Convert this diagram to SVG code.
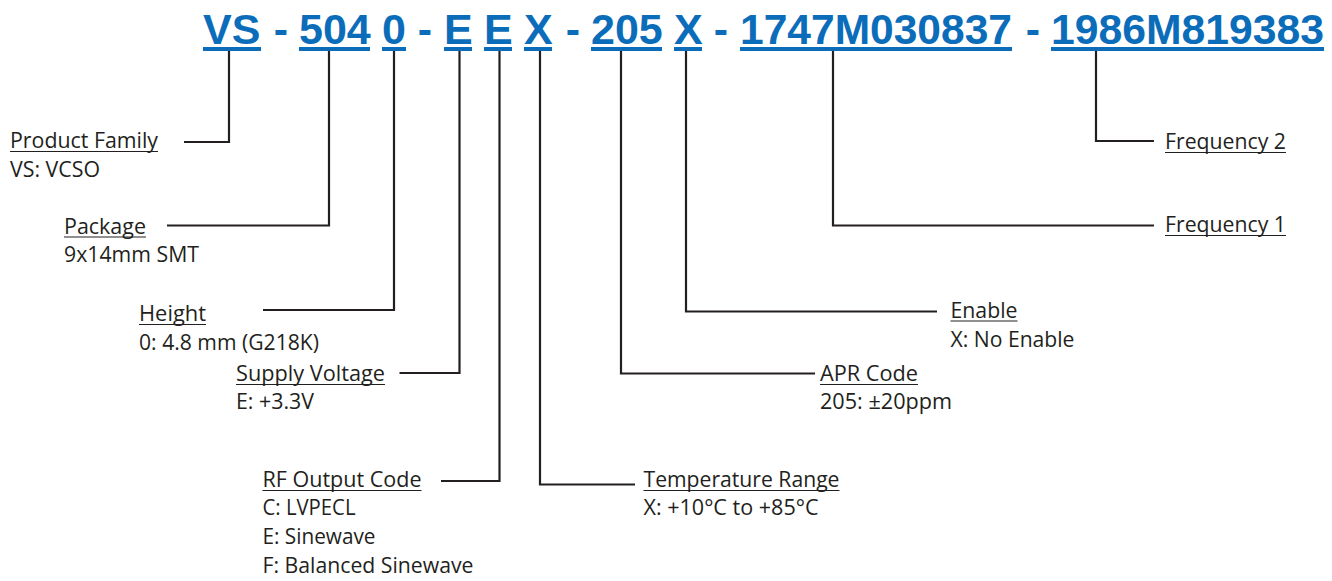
<svg xmlns="http://www.w3.org/2000/svg" width="1332" height="581" viewBox="0 0 1332 581">
<style>
.code{font-family:"Liberation Sans",Arial,sans-serif;font-weight:bold;font-size:43px;fill:#0b6dba}
.ul{fill:#0b6dba}
.lbl{font-family:"Open Sans","Noto Sans",sans-serif;font-size:22px;fill:#231f20}
.lu{stroke:#231f20;stroke-width:1.2;fill:none}
.con{stroke:#231f20;stroke-width:2.2;fill:none;stroke-linejoin:miter}
</style>
<rect width="1332" height="581" fill="#ffffff"/>
<g id="code">
<g id="seg-vs"><text class="code" x="203" y="44">VS</text><rect class="ul" x="203" y="47" width="58" height="4"/></g>
<text class="code" x="281" y="44" text-anchor="middle">-</text>
<g id="seg-504"><text class="code" x="299" y="44">504</text><rect class="ul" x="299" y="47" width="71" height="4"/></g>
<g id="seg-0"><text class="code" x="382" y="44">0</text><rect class="ul" x="382" y="47" width="24" height="4"/></g>
<text class="code" x="425" y="44" text-anchor="middle">-</text>
<g id="seg-e1"><text class="code" x="444" y="44">E</text><rect class="ul" x="444" y="47" width="28" height="4"/></g>
<g id="seg-e2"><text class="code" x="484" y="44">E</text><rect class="ul" x="484" y="47" width="28" height="4"/></g>
<g id="seg-x1"><text class="code" x="524" y="44">X</text><rect class="ul" x="524" y="47" width="28" height="4"/></g>
<text class="code" x="573" y="44" text-anchor="middle">-</text>
<g id="seg-205"><text class="code" x="591" y="44">205</text><rect class="ul" x="591" y="47" width="71" height="4"/></g>
<g id="seg-x2"><text class="code" x="674" y="44">X</text><rect class="ul" x="674" y="47" width="28" height="4"/></g>
<text class="code" x="721" y="44" text-anchor="middle">-</text>
<g id="seg-f1"><text class="code" x="740" y="44" textLength="272" lengthAdjust="spacingAndGlyphs">1747M030837</text><rect class="ul" x="740" y="47" width="272" height="4"/></g>
<text class="code" x="1033" y="44" text-anchor="middle">-</text>
<g id="seg-f2"><text class="code" x="1051" y="44" textLength="273" lengthAdjust="spacingAndGlyphs">1986M819383</text><rect class="ul" x="1051" y="47" width="273" height="4"/></g>
</g>
<g id="connectors">
<polyline class="con" points="229,51 229,142 184,142"/>
<polyline class="con" points="329,51 329,225.5 167,225.5"/>
<polyline class="con" points="394,51 394,310 263,310"/>
<polyline class="con" points="459.5,51 459.5,373 399.5,373"/>
<polyline class="con" points="499.5,51 499.5,481 441,481"/>
<polyline class="con" points="540,51 540,484.5 635,484.5"/>
<polyline class="con" points="621,51 621,373.5 815,373.5"/>
<polyline class="con" points="686,51 686,311.5 937,311.5"/>
<polyline class="con" points="833,51 833,225.5 1154,225.5"/>
<polyline class="con" points="1096,51 1096,141 1154,141"/>
</g>
<g id="product-family">
<text class="lbl" x="10" y="148" textLength="148" lengthAdjust="spacingAndGlyphs">Product Family</text>
<line class="lu" x1="10" y1="151.5" x2="158" y2="151.5"/>
<text class="lbl" x="10" y="176.5" textLength="90" lengthAdjust="spacingAndGlyphs">VS: VCSO</text>
</g>
<g id="package">
<text class="lbl" x="64" y="233.5" textLength="82" lengthAdjust="spacingAndGlyphs">Package</text>
<line class="lu" x1="64" y1="237" x2="146" y2="237"/>
<text class="lbl" x="64" y="262" textLength="135" lengthAdjust="spacingAndGlyphs">9x14mm SMT</text>
</g>
<g id="height">
<text class="lbl" x="139" y="321" textLength="67" lengthAdjust="spacingAndGlyphs">Height</text>
<line class="lu" x1="139" y1="324.5" x2="206" y2="324.5"/>
<text class="lbl" x="139" y="349.5" textLength="180" lengthAdjust="spacingAndGlyphs">0: 4.8 mm (G218K)</text>
</g>
<g id="supply-voltage">
<text class="lbl" x="236" y="381" textLength="149" lengthAdjust="spacingAndGlyphs">Supply Voltage</text>
<line class="lu" x1="236" y1="384.5" x2="385" y2="384.5"/>
<text class="lbl" x="236" y="409" textLength="78" lengthAdjust="spacingAndGlyphs">E: +3.3V</text>
</g>
<g id="rf-output-code">
<text class="lbl" x="262.5" y="487" textLength="159" lengthAdjust="spacingAndGlyphs">RF Output Code</text>
<line class="lu" x1="262.5" y1="490.5" x2="421.5" y2="490.5"/>
<text class="lbl" x="262.5" y="515" textLength="93" lengthAdjust="spacingAndGlyphs">C: LVPECL</text>
<text class="lbl" x="262.5" y="544" textLength="113" lengthAdjust="spacingAndGlyphs">E: Sinewave</text>
<text class="lbl" x="262.5" y="572.5" textLength="211" lengthAdjust="spacingAndGlyphs">F: Balanced Sinewave</text>
</g>
<g id="temperature-range">
<text class="lbl" x="643.5" y="487" textLength="196" lengthAdjust="spacingAndGlyphs">Temperature Range</text>
<line class="lu" x1="643.5" y1="490.5" x2="839.5" y2="490.5"/>
<text class="lbl" x="643.5" y="515" textLength="175" lengthAdjust="spacingAndGlyphs">X: +10°C to +85°C</text>
</g>
<g id="apr-code">
<text class="lbl" x="820" y="381" textLength="98" lengthAdjust="spacingAndGlyphs">APR Code</text>
<line class="lu" x1="820" y1="384.5" x2="918" y2="384.5"/>
<text class="lbl" x="820" y="409.3" textLength="132" lengthAdjust="spacingAndGlyphs">205: ±20ppm</text>
</g>
<g id="enable">
<text class="lbl" x="950.5" y="317.5" textLength="67" lengthAdjust="spacingAndGlyphs">Enable</text>
<line class="lu" x1="950.5" y1="321" x2="1017.5" y2="321"/>
<text class="lbl" x="950.5" y="346.5" textLength="124" lengthAdjust="spacingAndGlyphs">X: No Enable</text>
</g>
<g id="frequency-1">
<text class="lbl" x="1165" y="232" textLength="121" lengthAdjust="spacingAndGlyphs">Frequency 1</text>
<line class="lu" x1="1165" y1="235.5" x2="1286" y2="235.5"/>
</g>
<g id="frequency-2">
<text class="lbl" x="1165" y="149" textLength="121" lengthAdjust="spacingAndGlyphs">Frequency 2</text>
<line class="lu" x1="1165" y1="152.5" x2="1286" y2="152.5"/>
</g>
</svg>
